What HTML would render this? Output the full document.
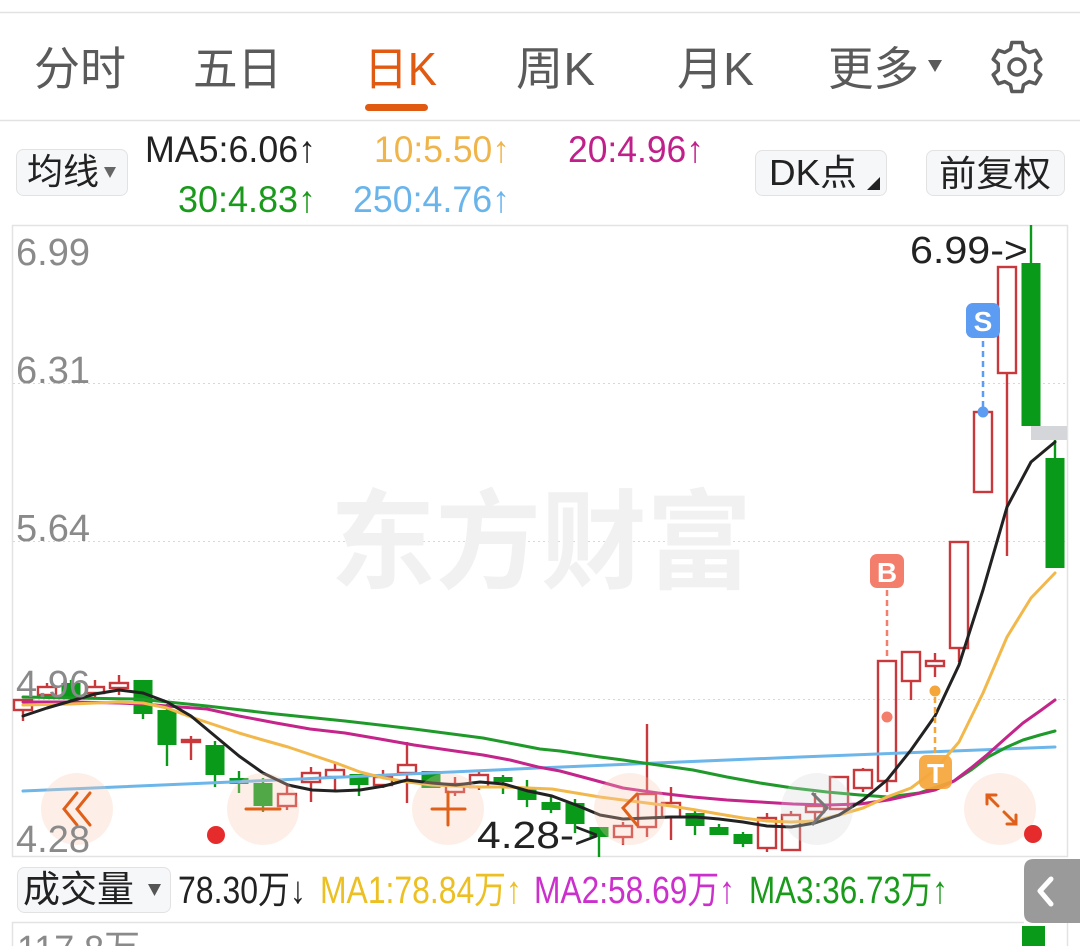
<!DOCTYPE html>
<html><head><meta charset="utf-8"><style>
html,body{margin:0;padding:0;background:#fff;}
svg{display:block;}
text{font-family:"Liberation Sans","Noto Sans CJK SC",sans-serif;}
</style></head><body>
<svg width="1080" height="946" viewBox="0 0 1080 946" xmlns="http://www.w3.org/2000/svg">
<rect x="0" y="0" width="1080" height="946" fill="#fff"/>
<!-- header -->
<line x1="0" y1="12.5" x2="1080" y2="12.5" stroke="#e2e2e2" stroke-width="1.5"/>
<g font-size="46" fill="#5a5a5a">
<text x="34" y="85" textLength="92" lengthAdjust="spacingAndGlyphs">分时</text>
<text x="193" y="85" textLength="89" lengthAdjust="spacingAndGlyphs">五日</text>
<text x="364" y="85" textLength="73" lengthAdjust="spacingAndGlyphs" fill="#e05a12">日K</text>
<text x="516" y="85" textLength="79" lengthAdjust="spacingAndGlyphs">周K</text>
<text x="677" y="85" textLength="77" lengthAdjust="spacingAndGlyphs">月K</text>
<text x="828" y="85" textLength="91" lengthAdjust="spacingAndGlyphs">更多</text>
</g>
<polygon points="928,60 942,60 935,72" fill="#5a5a5a"/>
<rect x="365" y="104" width="63" height="7" rx="3.5" fill="#e05a12"/>
<polygon points="1010.5,49.1 1011.8,42.55 1022.2,42.55 1023.5,49.1 1029.2,52.4 1035.6,50.3 1040.8,59.3 1035.7,63.7 1035.7,70.3 1040.8,74.7 1035.6,83.7 1029.2,81.6 1023.5,84.9 1022.2,91.45 1011.8,91.45 1010.5,84.9 1004.8,81.6 998.4,83.7 993.2,74.7 998.3,70.3 998.3,63.7 993.2,59.3 998.4,50.3 1004.8,52.4" fill="none" stroke="#5a5a5a" stroke-width="3.5" stroke-linejoin="round"/>
<circle cx="1017" cy="67" r="8" fill="none" stroke="#5a5a5a" stroke-width="3.5"/>
<line x1="0" y1="120.5" x2="1080" y2="120.5" stroke="#e2e2e2" stroke-width="1.5"/>

<!-- legend row -->
<rect x="16.5" y="149.5" width="111" height="46" rx="7" fill="#f6f7f9" stroke="#e2e2e2"/>
<text x="27" y="184" font-size="36" fill="#222" textLength="72" lengthAdjust="spacingAndGlyphs">均线</text>
<polygon points="104,167 116,167 110,178" fill="#666"/>
<g font-size="37">
<text x="145" y="162" fill="#222" textLength="171" lengthAdjust="spacingAndGlyphs">MA5:6.06↑</text>
<text x="374" y="162" fill="#f0b54a" textLength="136" lengthAdjust="spacingAndGlyphs">10:5.50↑</text>
<text x="568" y="162" fill="#c0208a" textLength="136" lengthAdjust="spacingAndGlyphs">20:4.96↑</text>
<text x="178" y="212" fill="#1a9a1a" textLength="138" lengthAdjust="spacingAndGlyphs">30:4.83↑</text>
<text x="353" y="212" fill="#6ab4ec" textLength="157" lengthAdjust="spacingAndGlyphs">250:4.76↑</text>
</g>
<rect x="755.5" y="150.5" width="131" height="45" rx="7" fill="#f6f7f9" stroke="#e2e2e2"/>
<text x="769" y="185" font-size="36" fill="#222" textLength="88" lengthAdjust="spacingAndGlyphs">DK点</text>
<polygon points="880,177 880,190 867,190" fill="#222"/>
<rect x="926.5" y="150.5" width="138" height="45" rx="7" fill="#f6f7f9" stroke="#e2e2e2"/>
<text x="939" y="186" font-size="36" fill="#222" textLength="112" lengthAdjust="spacingAndGlyphs">前复权</text>

<!-- chart frame -->
<rect x="12.5" y="225.5" width="1055" height="631" fill="none" stroke="#e3e3e3" stroke-width="1.5"/>
<g stroke="#d8d8d8" stroke-width="1" stroke-dasharray="2,3">
<line x1="13" y1="383.5" x2="1067" y2="383.5"/>
<line x1="13" y1="541.5" x2="1067" y2="541.5"/>
<line x1="13" y1="699.5" x2="1067" y2="699.5"/>
</g>
<text x="330" y="580" font-size="108" font-weight="700" fill="#f1f1f1" textLength="422" lengthAdjust="spacingAndGlyphs">东方财富</text>

<!-- candles -->
<g fill="none" stroke="#c9383a" stroke-width="2.4">
<rect x="14" y="700" width="18" height="10"/><line x1="23" y1="710" x2="23" y2="721"/>
<rect x="38" y="687" width="18" height="8"/><line x1="47" y1="683" x2="47" y2="687"/><line x1="47" y1="695" x2="47" y2="698"/>
<rect x="86" y="687" width="18" height="6"/><line x1="95" y1="680" x2="95" y2="687"/><line x1="95" y1="693" x2="95" y2="697"/>
<rect x="110" y="683" width="18" height="5"/><line x1="119" y1="675" x2="119" y2="683"/><line x1="119" y1="688" x2="119" y2="695"/>
<rect x="182" y="740" width="18" height="2"/><line x1="191" y1="736" x2="191" y2="760"/>
<rect x="278" y="794" width="18" height="12"/><line x1="287" y1="783" x2="287" y2="794"/><line x1="287" y1="806" x2="287" y2="810"/>
<rect x="302" y="773" width="18" height="9"/><line x1="311" y1="767" x2="311" y2="773"/><line x1="311" y1="782" x2="311" y2="802"/>
<rect x="326" y="770" width="18" height="7"/><line x1="335" y1="762" x2="335" y2="770"/><line x1="335" y1="777" x2="335" y2="791"/>
<rect x="374" y="777" width="18" height="8"/><line x1="383" y1="770" x2="383" y2="777"/><line x1="383" y1="785" x2="383" y2="788"/>
<rect x="398" y="765" width="18" height="8"/><line x1="407" y1="742" x2="407" y2="765"/><line x1="407" y1="773" x2="407" y2="803"/>
<rect x="446" y="784" width="18" height="8"/><line x1="455" y1="777" x2="455" y2="784"/><line x1="455" y1="792" x2="455" y2="796"/>
<rect x="470" y="775" width="18" height="12"/><line x1="479" y1="772" x2="479" y2="775"/><line x1="479" y1="787" x2="479" y2="790"/>
<rect x="614" y="826" width="18" height="11"/><line x1="623" y1="822" x2="623" y2="826"/><line x1="623" y1="837" x2="623" y2="845"/>
<rect x="638" y="794" width="18" height="33"/><line x1="647" y1="724" x2="647" y2="794"/><line x1="647" y1="827" x2="647" y2="837"/>
<rect x="662" y="803" width="18" height="14"/><line x1="671" y1="787" x2="671" y2="803"/><line x1="671" y1="817" x2="671" y2="840"/>
<rect x="758" y="818" width="18" height="30"/><line x1="767" y1="813" x2="767" y2="818"/><line x1="767" y1="848" x2="767" y2="852"/>
<rect x="782" y="815" width="18" height="35"/><line x1="791" y1="811" x2="791" y2="815"/>
<rect x="806" y="806" width="18" height="6"/><line x1="815" y1="793" x2="815" y2="806"/><line x1="815" y1="812" x2="815" y2="821"/>
<rect x="830" y="777" width="18" height="32"/>
<rect x="854" y="770" width="18" height="18"/><line x1="863" y1="768" x2="863" y2="770"/><line x1="863" y1="788" x2="863" y2="792"/>
<rect x="878" y="661" width="18" height="120"/><line x1="887" y1="781" x2="887" y2="792"/>
<rect x="902" y="652" width="18" height="29"/><line x1="911" y1="681" x2="911" y2="700"/>
<rect x="926" y="661" width="18" height="5"/><line x1="935" y1="653" x2="935" y2="661"/><line x1="935" y1="666" x2="935" y2="677"/>
<rect x="950" y="542" width="18" height="106"/><line x1="959" y1="648" x2="959" y2="662"/>
<rect x="974" y="412" width="18" height="80"/>
<rect x="998" y="267" width="18" height="106"/><line x1="1007" y1="373" x2="1007" y2="556"/>
</g>
<g fill="#0a9a1a" stroke="#0a9a1a" stroke-width="2.4">
<rect x="61.5" y="683" width="19" height="14" stroke="none"/><line x1="71" y1="680" x2="71" y2="700"/>
<rect x="133.5" y="680" width="19" height="34" stroke="none"/><line x1="143" y1="680" x2="143" y2="719"/>
<rect x="157.5" y="710" width="19" height="35" stroke="none"/><line x1="167" y1="704" x2="167" y2="766"/>
<rect x="205.5" y="745" width="19" height="30" stroke="none"/><line x1="215" y1="741" x2="215" y2="787"/>
<rect x="229.5" y="778" width="19" height="6" stroke="none"/><line x1="239" y1="771" x2="239" y2="793"/>
<rect x="253.5" y="783" width="19" height="23" stroke="none"/><line x1="263" y1="778" x2="263" y2="812"/>
<rect x="349.5" y="774" width="19" height="11" stroke="none"/><line x1="359" y1="774" x2="359" y2="796"/>
<rect x="421.5" y="771" width="19" height="17" stroke="none"/>
<rect x="493.5" y="777" width="19" height="5" stroke="none"/><line x1="503" y1="775" x2="503" y2="794"/>
<rect x="517.5" y="787" width="19" height="13" stroke="none"/><line x1="527" y1="780" x2="527" y2="807"/>
<rect x="541.5" y="802" width="19" height="8" stroke="none"/><line x1="551" y1="797" x2="551" y2="813"/>
<rect x="565.5" y="803" width="19" height="21" stroke="none"/><line x1="575" y1="799" x2="575" y2="833"/>
<rect x="589.5" y="827" width="19" height="10" stroke="none"/><line x1="599" y1="827" x2="599" y2="857"/>
<rect x="685.5" y="813" width="19" height="13" stroke="none"/><line x1="695" y1="811" x2="695" y2="835"/>
<rect x="709.5" y="827" width="19" height="8" stroke="none"/><line x1="719" y1="824" x2="719" y2="835"/>
<rect x="733.5" y="834" width="19" height="10" stroke="none"/><line x1="743" y1="832" x2="743" y2="847"/>
<rect x="1021.5" y="263" width="19" height="163" stroke="none"/><line x1="1031" y1="225" x2="1031" y2="263"/>
<rect x="1045.5" y="458" width="19" height="110" stroke="none"/><line x1="1055" y1="440" x2="1055" y2="458"/>
</g>
<rect x="1031" y="426" width="36" height="14" fill="#d4d6d9"/>

<!-- MA lines -->
<g fill="none" stroke-width="3" stroke-linejoin="round" stroke-linecap="round">
<polyline stroke="#6cb6ea" points="23,791 300,779 538,768 800,757 1055,747"/>
<polyline stroke="#1f9a2a" points="23,697 71,698 138,699 207,706 276,714 345,721 414,729 483,738 540,749 560,751 600,757 623,760 658,765 693,770 727,777 760,783 793,788 827,792 860,795 888,797 919,793 954,781 971,770 988,757 1007,747 1023,740 1040,735 1055,731"/>
<polyline stroke="#c4258a" points="23,702 71,702 119,703 143,704 167,706 207,709 239,716 276,723 310,729 345,733 380,739 414,745 448,750 483,755 510,760 538,767 560,771 590,779 623,788 658,793 693,797 727,800 760,802 793,804 827,805 860,804 888,800 911,795 935,790 954,781 971,768 988,754 1007,737 1023,723 1040,711 1055,700"/>
<polyline stroke="#f2b84b" points="23,705 71,704 119,702 143,703 167,708 191,717 215,725 239,733 263,740 288,747 312,755 336,763 360,772 384,778 408,782 432,785 456,786 480,787 504,787 528,788 552,789 576,793 600,797 623,800 647,803 671,806 696,810 719,814 743,818 767,821 791,822 815,821 839,815 863,808 887,797 911,788 935,770 959,742 983,693 1007,637 1031,598 1055,573"/>
<polyline stroke="#222" points="23,716 47,708 71,701 95,694 119,690 143,693 167,702 191,716 215,736 239,756 263,773 288,785 312,790 336,791 360,790 384,786 407,780 432,783 456,785 480,782 504,784 528,791 552,796 576,805 600,815 623,819 647,818 671,817 696,817 719,819 743,822 767,826 791,827 815,823 839,815 863,800 887,780 911,750 935,716 959,665 983,590 1007,507 1031,462 1055,442"/>
</g>

<!-- markers -->
<line x1="887" y1="590" x2="887" y2="656" stroke="#f47e6c" stroke-width="2.5" stroke-dasharray="6,4"/>
<circle cx="887" cy="717" r="5.5" fill="#f47e6c"/>
<rect x="870" y="554" width="34" height="34" rx="7" fill="#f47e6c"/>
<text x="887" y="582" font-size="28" font-weight="700" fill="#fff" text-anchor="middle">B</text>
<line x1="983" y1="341" x2="983" y2="408" stroke="#5c9cf2" stroke-width="2.5" stroke-dasharray="6,4"/>
<circle cx="983" cy="412" r="5.5" fill="#5c9cf2"/>
<rect x="966" y="303" width="34" height="35" rx="7" fill="#5c9cf2"/>
<text x="983" y="331" font-size="28" font-weight="700" fill="#fff" text-anchor="middle">S</text>
<line x1="935" y1="697" x2="935" y2="755" stroke="#f5a63a" stroke-width="2.5" stroke-dasharray="6,4"/>
<circle cx="935" cy="691" r="5.5" fill="#f5a63a"/>
<rect x="919" y="755" width="33" height="34" rx="7" fill="#f5a63a" opacity="0.92"/>
<text x="935.5" y="783" font-size="28" font-weight="700" fill="#fff" text-anchor="middle">T</text>

<!-- overlay buttons -->
<g fill="#f9c9ae" fill-opacity="0.3">
<circle cx="77" cy="809" r="36"/>
<circle cx="263" cy="809" r="36"/>
<circle cx="448" cy="809" r="36"/>
<circle cx="630" cy="809" r="36"/>
<circle cx="1000" cy="809" r="36"/>
</g>
<circle cx="817" cy="809" r="36" fill="#d8d8d8" fill-opacity="0.3"/>
<g fill="none" stroke="#e0601a" stroke-width="3" stroke-linecap="round" stroke-linejoin="miter">
<polyline points="77,793 64,809 77,825"/>
<polyline points="90,793 77,809 90,825"/>
<line x1="246" y1="809" x2="280" y2="809"/>
<line x1="432" y1="809" x2="465" y2="809"/>
<line x1="448" y1="792" x2="448" y2="825"/>
<polyline points="637,794 623,808 637,825"/>
<line x1="987" y1="795" x2="998" y2="806"/>
<polyline points="987,804 987,795 996,795"/>
<line x1="1004" y1="812" x2="1016" y2="824"/>
<polyline points="1016,815 1016,824 1007,824"/>
</g>
<polyline points="812,793 827,808 812,825" fill="none" stroke="#777" stroke-width="3"/>
<circle cx="216" cy="835" r="9" fill="#e52b2b"/>
<circle cx="1033" cy="834" r="9" fill="#e52b2b"/>

<!-- price labels -->
<g font-size="38" fill="#8a8a8a">
<text x="16" y="265">6.99</text>
<text x="16" y="383">6.31</text>
<text x="16" y="541">5.64</text>
<text x="16" y="697">4.96</text>
<text x="16" y="852">4.28</text>
</g>
<text x="910" y="263" font-size="38" fill="#222" textLength="118" lengthAdjust="spacingAndGlyphs">6.99-&gt;</text>
<text x="477" y="848" font-size="38" fill="#222" textLength="122" lengthAdjust="spacingAndGlyphs">4.28-&gt;</text>

<!-- volume row -->
<rect x="17.5" y="867.5" width="153" height="45" rx="7" fill="#f6f7f9" stroke="#e2e2e2"/>
<text x="23" y="902" font-size="37" fill="#222" textLength="111" lengthAdjust="spacingAndGlyphs">成交量</text>
<polygon points="148,884 161,884 154.5,896" fill="#555"/>
<g font-size="38">
<text x="178" y="903" fill="#222" textLength="128" lengthAdjust="spacingAndGlyphs">78.30万↓</text>
<text x="320" y="903" fill="#ecbf22" textLength="202" lengthAdjust="spacingAndGlyphs">MA1:78.84万↑</text>
<text x="534" y="903" fill="#cc30cc" textLength="201" lengthAdjust="spacingAndGlyphs">MA2:58.69万↑</text>
<text x="749" y="903" fill="#1a9a1a" textLength="199" lengthAdjust="spacingAndGlyphs">MA3:36.73万↑</text>
</g>
<path d="M1080,859 L1034,859 Q1024,859 1024,869 L1024,913 Q1024,923 1034,923 L1080,923 Z" fill="#9a9a9a"/>
<polyline points="1051,879 1040,891 1051,904" fill="none" stroke="#fff" stroke-width="5" stroke-linecap="round" stroke-linejoin="round"/>

<!-- bottom panel -->
<line x1="12" y1="922.5" x2="1024" y2="922.5" stroke="#e3e3e3" stroke-width="1.5"/>
<line x1="12.5" y1="922" x2="12.5" y2="946" stroke="#e3e3e3" stroke-width="1.5"/>
<line x1="1067.5" y1="923" x2="1067.5" y2="946" stroke="#e3e3e3" stroke-width="1.5"/>
<rect x="1022" y="926" width="23" height="20" fill="#0a9a1a"/>
<text x="17" y="962" font-size="38" fill="#8a8a8a" textLength="123" lengthAdjust="spacingAndGlyphs">117.8万</text>
</svg>
</body></html>
